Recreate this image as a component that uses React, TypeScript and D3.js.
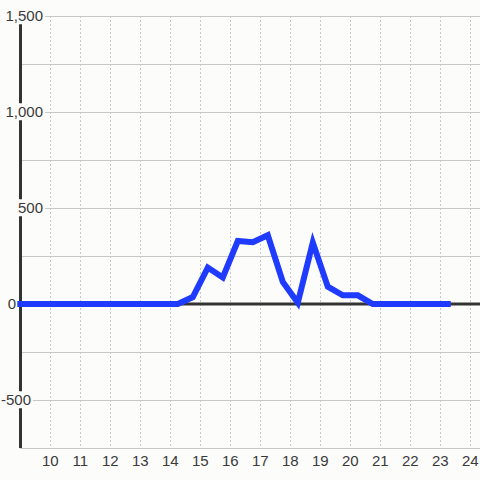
import React, { useEffect, useRef } from "react";
import * as d3 from "d3";

const hours = [9, 9.25, 9.75, 10.25, 10.75, 11.25, 11.75, 12.25, 12.75, 13.25, 13.75, 14.25, 14.75, 15.25, 15.75, 16.25, 16.75, 17.25, 17.75, 18.25, 18.75, 19.25, 19.75, 20.25, 20.75, 21.25, 21.75, 22.25, 22.75, 23.25];
const values = [0, 0, 0, 0, 0, 0, 0, 0, 0, 0, 0, 0, 36, 190, 138, 328, 322, 358, 115, 6, 320, 90, 45, 45, 0, 0, 0, 0, 0, 0];
const xTicks = [10, 11, 12, 13, 14, 15, 16, 17, 18, 19, 20, 21, 22, 23, 24];
const yGrid = [-750, -500, -250, 0, 250, 500, 750, 1000, 1250, 1500];
const yLabels = [-500, 0, 500, 1000, 1500];
const yLabelTexts = ["-500", "0", "500", "1,000", "1,500"];
const yLabelRight = [31, 16, 43, 43, 43];

const W = 480;
const H = 480;
const BG = "#fcfcfa";
const FONT = "Liberation Sans, Arial, sans-serif";

export default function App() {
  const ref = useRef<SVGSVGElement>(null);
  useEffect(() => {
    const svg = d3.select(ref.current);
    svg.selectAll("*").remove();
    const x = d3.scaleLinear().domain([9, 24]).range([20.3, 470.3]);
    const y = d3.scaleLinear().domain([-750, 1500]).range([448, 16]);

    svg.append("rect").attr("width", W).attr("height", H).attr("fill", BG);

    svg.selectAll("line.hg").data(yGrid).join("line")
      .attr("x1", 20).attr("x2", W)
      .attr("y1", (d) => Math.round(y(d)) + 0.5).attr("y2", (d) => Math.round(y(d)) + 0.5)
      .attr("stroke", "#c8c8c8").attr("stroke-width", 1);

    svg.selectAll("line.vg").data(xTicks).join("line")
      .attr("x1", (d) => Math.round(x(d)) + 0.5).attr("x2", (d) => Math.round(x(d)) + 0.5)
      .attr("y1", 16).attr("y2", 448)
      .attr("stroke", "#c8c8c8").attr("stroke-width", 1).attr("stroke-dasharray", "2,2");

    svg.append("line").attr("x1", 20.5).attr("x2", 20.5).attr("y1", 16).attr("y2", 448)
      .attr("stroke", "#333").attr("stroke-width", 3);
    svg.append("line").attr("x1", 20).attr("x2", W).attr("y1", y(0)).attr("y2", y(0))
      .attr("stroke", "#333").attr("stroke-width", 3);

    const lab = svg.selectAll("g.yl").data(yLabels).join("g");
    lab.each(function (d, i) {
      const g = d3.select(this);
      const t = g.append("text").attr("x", yLabelRight[i]).attr("y", y(d)).attr("dy", "0.35em")
        .attr("text-anchor", "end").attr("font-family", FONT)
        .attr("font-size", 15).attr("fill", "#3a3a3a").text(yLabelTexts[i]);
      const bb = (t.node() as SVGTextElement).getBBox();
      g.insert("rect", "text").attr("x", bb.x - 2).attr("y", bb.y).attr("width", bb.width + 4)
        .attr("height", bb.height).attr("fill", BG);
    });

    svg.selectAll("text.xl").data(xTicks).join("text")
      .attr("x", (d) => x(d)).attr("y", 466).attr("text-anchor", "middle")
      .attr("font-family", FONT).attr("font-size", 15)
      .attr("fill", "#3a3a3a").text((d) => String(d));

    const line = d3.line<number>().x((_, i) => x(hours[i])).y((d) => y(d));
    svg.append("path").attr("d", line(values) || "").attr("fill", "none")
      .attr("stroke", "#1f3bff").attr("stroke-width", 6)
      .attr("stroke-linecap", "square").attr("stroke-linejoin", "miter");
  }, []);
  return (
    <svg ref={ref} width={W} height={H} style={{ position: "fixed", left: 0, top: 0 }} />
  );
}
